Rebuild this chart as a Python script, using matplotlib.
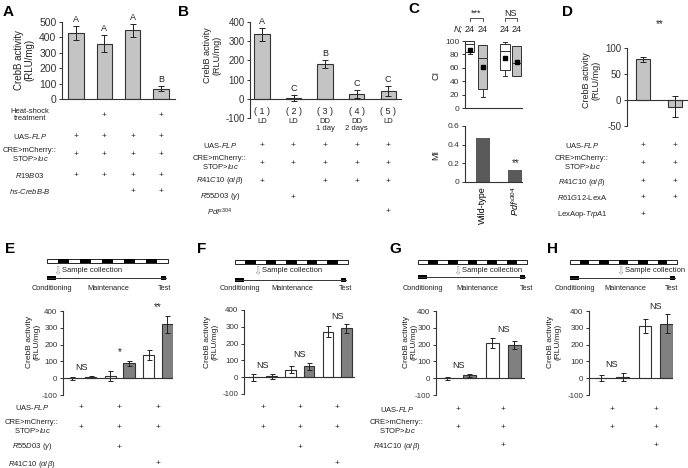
import numpy as np
import matplotlib.pyplot as plt
from matplotlib.transforms import blended_transform_factory
from matplotlib.patches import Rectangle

plt.rcParams['font.family'] = ['Liberation Sans', 'DejaVu Sans']
plt.rcParams['mathtext.fontset'] = 'custom'
plt.rcParams['mathtext.rm'] = 'Liberation Sans'
plt.rcParams['mathtext.it'] = 'Liberation Sans:italic'
plt.rcParams['axes.unicode_minus'] = False
plt.rcParams['axes.linewidth'] = 0.8
plt.rcParams['axes.edgecolor'] = '#333333'
plt.rcParams['text.color'] = '#222222'
plt.rcParams['ytick.color'] = '#333333'

# ---------------- data ----------------
# A
a_vals = [430, 360, 445, 68]
a_err = [45, 55, 45, 15]
a_letters = ['A', 'A', 'A', 'B']
a_rows = ["Heat-shock\ntreatment", r"UAS-$\mathit{FLP}$", "CRE>mCherry::\nSTOP>$\\mathit{luc}$",
          r"$\mathit{R19B03}$", r"$\mathit{hs}$-$\mathit{CrebB}$-$\mathit{B}$"]
a_plus = [[0, 1, 0, 1], [1, 1, 1, 1], [1, 1, 1, 1], [1, 1, 1, 1], [0, 0, 1, 1]]

# B
b_vals = [335, 3, 183, 25, 40]
b_err = [32, 15, 20, 20, 25]
b_letters = ['A', 'C', 'B', 'C', 'C']
b_ids = ['( 1 )', '( 2 )', '( 3 )', '( 4 )', '( 5 )']
b_cond = ['LD', 'LD', 'DD\n1 day', 'DD\n2 days', 'LD']
b_rows = [r"UAS-$\mathit{FLP}$", "CRE>mCherry::\nSTOP>$\\mathit{luc}$", r"$\mathit{R41C10}$ $\mathit{(α/β)}$",
          r"$\mathit{R55D03}$ $\mathit{(γ)}$", r"$\mathit{Pdf}^{\mathit{s304}}$"]
b_plus = [[1, 1, 1, 1, 1], [1, 1, 1, 1, 1], [1, 0, 1, 1, 1], [0, 1, 0, 0, 0], [0, 0, 0, 0, 1]]

# C
c_groups = ['Wild-type', r'$\mathit{Pdf}^{\mathit{s304}}$']
c_n = [24, 24, 24, 24]
c_box = [  # whislo, q1, med, q3, whishi, mean
    [81, 84, 95, 100, 100, 87],
    [16, 28, 75, 94, 94, 61],
    [48, 56, 85, 95, 98, 75],
    [48, 48, 67, 92, 93, 68],
]
c_sig = ['***', 'NS']
c_mi = [0.475, 0.13]

# D
d_vals = [78, -13]
d_err = [4, 20]
d_rows = [r"UAS-$\mathit{FLP}$", "CRE>mCherry::\nSTOP>$\\mathit{luc}$", r"$\mathit{R41C10}$ $\mathit{(α/β)}$",
          r"$\mathit{R61G12}$-LexA", r"LexAop-$\mathit{TrpA1}$"]
d_plus = [[1, 1], [1, 1], [1, 1], [1, 1], [1, 0]]

# E-H (white = first bar of a pair, gray = second)
e_white = [0, 12, 140]
e_white_err = [10, 28, 30]
e_gray = [8, 90, 320]
e_gray_err = [6, 15, 50]
e_sig = ['NS', '*', '**']

f_white = [0, 45, 272]
f_white_err = [22, 20, 35]
f_gray = [5, 65, 290]
f_gray_err = [15, 20, 25]
f_sig = ['NS', 'NS', 'NS']

g_white = [0, 210]
g_white_err = [10, 30]
g_gray = [18, 197]
g_gray_err = [8, 22]
g_sig = ['NS', 'NS']

h_white = [0, 310]
h_white_err = [17, 40]
h_gray = [8, 325]
h_gray_err = [25, 55]
h_sig = ['NS', 'NS']

ef_rows = [r"UAS-$\mathit{FLP}$", "CRE>mCherry::\nSTOP>$\\mathit{luc}$", r"$\mathit{R55D03}$ $\mathit{(γ)}$",
           r"$\mathit{R41C10}$ $\mathit{(α/β)}$"]
ef_plus = [[1, 1, 1], [1, 1, 1], [0, 1, 0], [0, 0, 1]]
gh_rows = [r"UAS-$\mathit{FLP}$", "CRE>mCherry::\nSTOP>$\\mathit{luc}$", r"$\mathit{R41C10}$ $\mathit{(α/β)}$"]
gh_plus = [[1, 1], [1, 1], [0, 1]]

# ---------------- figure helpers ----------------
W, H = 688, 468
fig = plt.figure(figsize=(W / 100, H / 100), dpi=100)
ov = fig.add_axes([0, 0, 1, 1])
ov.set_xlim(0, W)
ov.set_ylim(H, 0)
ov.axis('off')

LIGHT = '#c4c4c4'
DARK = '#808080'
EDGE = '#333333'
ylab = "CrebB activity\n(RLU/mg)"


def px_ax(x0, y0, x1, y1):
    ax = fig.add_axes([x0 / W, 1 - y1 / H, (x1 - x0) / W, (y1 - y0) / H])
    ax.patch.set_alpha(0)
    for s in ['top', 'right']:
        ax.spines[s].set_visible(False)
    ax.set_xticks([])
    return ax


def ftxt(x, y, s, **kw):
    kw.setdefault('ha', 'center')
    kw.setdefault('va', 'center')
    return fig.text(x / W, 1 - y / H, s, **kw)


def yticks(ax, fs):
    ax.tick_params(axis='y', labelsize=fs, length=2.5, width=0.7, pad=1.5)


def zero_line(ax):
    ax.spines['bottom'].set_visible(False)
    ax.axhline(0, color=EDGE, lw=0.8)


def plus_rows(ax, xs, rows_y, plus, fs=6):
    tr = blended_transform_factory(ax.transData, fig.transFigure)
    for yy, row in zip(rows_y, plus):
        for x, p in zip(xs, row):
            if p:
                ax.text(x, 1 - yy / H, '+', transform=tr, ha='center', va='center', fontsize=fs)


def row_labels(x, rows_y, labels, fs=5.5):
    for yy, lab in zip(rows_y, labels):
        ftxt(x, yy, lab, fontsize=fs, linespacing=1.1)


def err_kw():
    return dict(elinewidth=0.7, capthick=0.7, ecolor='#222222')


# ---------------- A ----------------
ftxt(3, 12, 'A', fontsize=11, fontweight='bold', ha='left', color='k')
axA = px_ax(62, 22, 175, 99)
xa = np.arange(len(a_vals))
axA.bar(xa, a_vals, 0.55, color=LIGHT, edgecolor=EDGE, lw=0.8, yerr=a_err, capsize=2, error_kw=err_kw())
axA.set_xlim(-0.5, 3.5)
axA.set_ylim(0, 500)
axA.set_yticks(range(0, 501, 100))
yticks(axA, 7.5)
for x, v, e, l in zip(xa, a_vals, a_err, a_letters):
    axA.text(x, v + e + 12, l, ha='center', va='bottom', fontsize=6.5)
ftxt(24, 60, ylab, fontsize=7, rotation=90, linespacing=1.1)
row_labels(30, [115, 136, 155, 176, 192], a_rows)
plus_rows(axA, xa, [115, 136, 155, 176, 192], a_plus)

# ---------------- B ----------------
ftxt(178, 12, 'B', fontsize=11, fontweight='bold', ha='left', color='k')
axB = px_ax(250, 22, 402, 118)
xb = np.arange(len(b_vals))
axB.bar(xb, b_vals, 0.48, color=LIGHT, edgecolor=EDGE, lw=0.8, yerr=b_err, capsize=2, error_kw=err_kw())
axB.set_xlim(-0.38, 4.44)
axB.set_ylim(-100, 400)
axB.set_yticks(range(-100, 401, 100))
yticks(axB, 7)
zero_line(axB)
for x, v, e, l in zip(xb, b_vals, b_err, b_letters):
    axB.text(x, max(v, 0) + e + 12, l, ha='center', va='bottom', fontsize=6.5)
trB = blended_transform_factory(axB.transData, fig.transFigure)
for x, s, c in zip(xb, b_ids, b_cond):
    axB.text(x, 1 - 111 / H, s, transform=trB, ha='center', va='center', fontsize=6.5)
    axB.text(x, 1 - 118 / H, c, transform=trB, ha='center', va='top', fontsize=5.5, linespacing=1.0)
ftxt(212, 55, ylab, fontsize=6.5, rotation=90, linespacing=1.1)
b_rows_y = [145, 163, 181, 197, 212]
row_labels(220, b_rows_y, b_rows)
plus_rows(axB, xb, b_rows_y, b_plus)

# ---------------- C ----------------
ftxt(408, 9, 'C', fontsize=11, fontweight='bold', ha='left', color='k')
axC = px_ax(465, 41, 522, 108)
c_pos = [0.0, 1.0, 2.7, 3.6]
stats = [dict(whislo=b[0], q1=b[1], med=b[2], q3=b[3], whishi=b[4], mean=b[5], fliers=[]) for b in c_box]
bp = axC.bxp(stats, positions=c_pos, widths=0.7, patch_artist=True, showmeans=True, showfliers=False,
             boxprops=dict(edgecolor=EDGE, lw=0.7), medianprops=dict(color=EDGE, lw=0.7),
             whiskerprops=dict(color=EDGE, lw=0.7), capprops=dict(color=EDGE, lw=0.7), capwidths=0.3,
             meanprops=dict(marker='s', markerfacecolor='k', markeredgecolor='k', markersize=3.2))
for patch, col in zip(bp['boxes'], ['white', LIGHT, 'white', LIGHT]):
    patch.set_facecolor(col)
axC.set_xlim(-0.35, 4.0)
axC.set_ylim(0, 100)
axC.set_yticks(range(0, 101, 20))
axC.set_xticks([])
yticks(axC, 6)
trC = blended_transform_factory(axC.transData, fig.transFigure)
axC.text(-0.9, 1 - 29 / H, 'N;', transform=trC, ha='center', va='center', fontsize=6.5, style='italic')
for x, n in zip(c_pos, c_n):
    axC.text(x, 1 - 29 / H, str(n), transform=trC, ha='center', va='center', fontsize=6.5)
for (i, j), s in zip([(0, 1), (2, 3)], c_sig):
    xm = (c_pos[i] + c_pos[j]) / 2
    axC.text(xm, 1 - 13 / H, s, transform=trC, ha='center', va='center', fontsize=6.5)
    axC.plot([c_pos[i], c_pos[i], c_pos[j], c_pos[j]], [1 - 21 / H, 1 - 18 / H, 1 - 18 / H, 1 - 21 / H],
             transform=trC, color=EDGE, lw=0.6, clip_on=False)
ftxt(436, 75, 'CI', fontsize=6.5, rotation=90)

axM = px_ax(465, 126, 522, 182)
xm_ = np.arange(len(c_mi))
axM.bar(xm_, c_mi, 0.43, color='#5a5a5a')
axM.set_xlim(-0.55, 1.2)
axM.set_ylim(0, 0.6)
axM.set_yticks([0, 0.2, 0.4, 0.6])
axM.set_yticklabels(['0', '0.2', '0.4', '0.6'])
yticks(axM, 6)
axM.set_xticks(xm_)
axM.set_xticklabels(c_groups, rotation=90, fontsize=6.5)
axM.tick_params(axis='x', length=0, pad=3)
axM.text(1, c_mi[1] + 0.02, '**', ha='center', va='bottom', fontsize=7)
ftxt(436, 155, 'MI', fontsize=6.5, rotation=90)

# ---------------- D ----------------
ftxt(562, 12, 'D', fontsize=11, fontweight='bold', ha='left', color='k')
ftxt(660, 24, '**', fontsize=7)
axD = px_ax(627, 48, 688, 126)
xd = np.arange(len(d_vals))
axD.bar(xd, d_vals, 0.44, color=LIGHT, edgecolor=EDGE, lw=0.8, yerr=d_err, capsize=2, error_kw=err_kw())
axD.set_xlim(-0.5, 1.4)
axD.set_ylim(-50, 100)
axD.set_yticks([-50, 0, 50, 100])
yticks(axD, 7)
zero_line(axD)
ftxt(591, 80, ylab, fontsize=6.5, rotation=90, linespacing=1.1)
d_rows_y = [145, 163, 182, 198, 215]
row_labels(582, d_rows_y, d_rows)
plus_rows(axD, xd, d_rows_y, d_plus)

# ---------------- E-H ----------------
panels = [
    dict(letter='E', lx=5, box=(63, 311, 173, 395), xlim=(-0.47, 2.39), white=e_white, werr=e_white_err,
         gray=e_gray, gerr=e_gray_err, sig=e_sig, ylab_x=33,
         tl=(47, 168, 261), arrow=57, line_y=278, cond=52, maint=108, test=165),
    dict(letter='F', lx=197, box=(244, 310, 355, 394), xlim=(-0.5, 2.48), white=f_white, werr=f_white_err,
         gray=f_gray, gerr=f_gray_err, sig=f_sig, ylab_x=211,
         tl=(235, 348, 262), arrow=257, line_y=280, cond=240, maint=292, test=346),
    dict(letter='G', lx=389, box=(436, 311, 525, 395), xlim=(-0.5, 1.49), white=g_white, werr=g_white_err,
         gray=g_gray, gerr=g_gray_err, sig=g_sig, ylab_x=410,
         tl=(418, 527, 262), arrow=457, line_y=277, cond=423, maint=477, test=527),
    dict(letter='H', lx=547, box=(589, 311, 673, 395), xlim=(-0.52, 1.39), white=h_white, werr=h_white_err,
         gray=h_gray, gerr=h_gray_err, sig=h_sig, ylab_x=554,
         tl=(570, 677, 262), arrow=620, line_y=278, cond=575, maint=625, test=672),
]

axes_eh = []
for p in panels:
    ftxt(p['lx'], 249, p['letter'], fontsize=11, fontweight='bold', ha='left', color='k')
    # protocol timeline
    x0, x1, yb = p['tl']
    seg = (x1 - x0) / 11
    for i in range(11):
        ov.add_patch(Rectangle((x0 + i * seg, yb - 2), seg, 4, facecolor='white' if i % 2 == 0 else 'black',
                               edgecolor='none'))
    ov.add_patch(Rectangle((x0, yb - 2), x1 - x0, 4, fill=False, edgecolor='black', lw=0.6))
    ov.plot([x0, x1 - 2], [p['line_y'], p['line_y']], color='#333333', lw=0.7)
    ov.add_patch(Rectangle((x0, p['line_y'] - 1.8), 9, 3.6, facecolor='black', edgecolor='none'))
    ov.add_patch(Rectangle((x1 - 7, p['line_y'] - 1.8), 5, 3.6, facecolor='black', edgecolor='none'))
    ftxt(p['arrow'], 271, '⇩', fontsize=7, color='#999999', family='DejaVu Sans')
    ftxt(p['arrow'] + 5, 271, 'Sample collection', fontsize=5.5, ha='left')
    ftxt(p['cond'], 288, 'Conditioning', fontsize=5.3)
    ftxt(p['maint'], 288, 'Maintenance', fontsize=5.3)
    ftxt(p['test'], 288, 'Test', fontsize=5.3)

    ax = px_ax(*p['box'])
    xg = np.arange(len(p['white']))
    ax.bar(xg - 0.245, p['white'], 0.29, color='white', edgecolor=EDGE, lw=0.8, yerr=p['werr'], capsize=1.8,
           error_kw=err_kw())
    ax.bar(xg + 0.245, p['gray'], 0.29, color=DARK, edgecolor=EDGE, lw=0.8, yerr=p['gerr'], capsize=1.8,
           error_kw=err_kw())
    ax.set_xlim(*p['xlim'])
    ax.set_ylim(-100, 400)
    ax.set_yticks(range(-100, 401, 100))
    yticks(ax, 5.8)
    zero_line(ax)
    for x, w, we, g, ge, s in zip(xg, p['white'], p['werr'], p['gray'], p['gerr'], p['sig']):
        top = max(w + we, g + ge)
        ax.text(x, top + 22, s, ha='center', va='bottom', fontsize=6.5 if s == 'NS' else 7)
    ftxt(p['ylab_x'], 342, ylab, fontsize=6, rotation=90, linespacing=1.1)
    axes_eh.append(ax)

ef_y = [408, 427, 447, 464]
gh_y = [409, 427, 446]
row_labels(32, ef_y, ef_rows)
plus_rows(axes_eh[0], np.arange(3), ef_y, ef_plus)
plus_rows(axes_eh[1], np.arange(3), ef_y, ef_plus)
row_labels(397, gh_y, gh_rows)
plus_rows(axes_eh[2], np.arange(2), gh_y, gh_plus)
plus_rows(axes_eh[3], np.arange(2), gh_y, gh_plus)

fig.savefig('out.png', dpi=100)
